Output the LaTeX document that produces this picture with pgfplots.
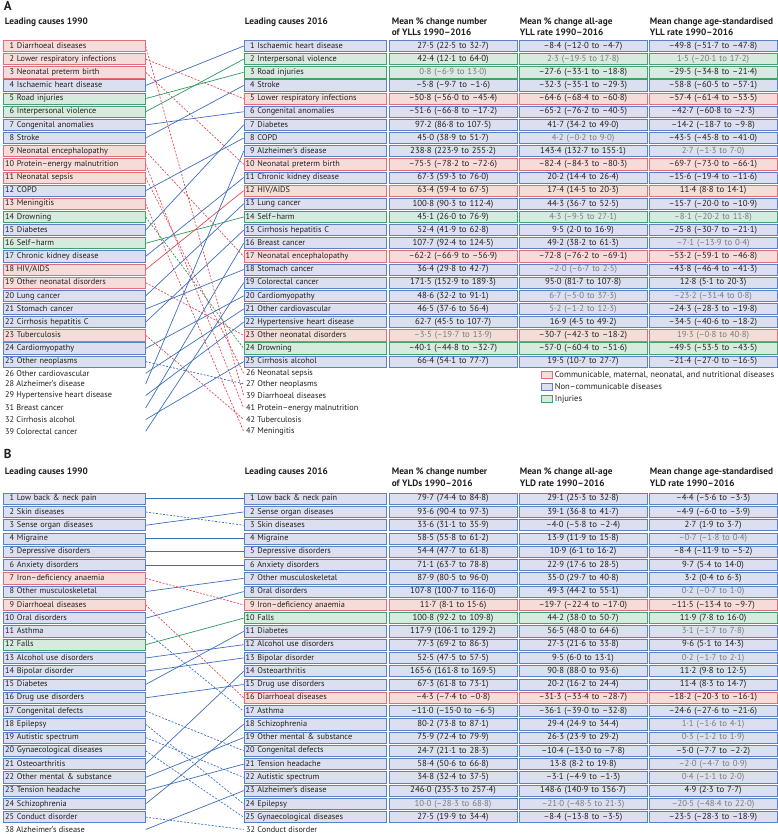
\documentclass[border=0pt]{standalone}
\usepackage{pgfplots}
\pgfplotsset{compat=1.18}
\usepackage{fontspec}
\setmainfont{PT Sans}
\definecolor{rb}{HTML}{DF6E78}
\definecolor{rf}{HTML}{F6DCD9}
\definecolor{bb}{HTML}{5A80C6}
\definecolor{bf}{HTML}{DCDFEF}
\definecolor{gb}{HTML}{45A070}
\definecolor{gf}{HTML}{D7EADE}
\definecolor{bl}{HTML}{3E6FC0}
\definecolor{rl}{HTML}{E04A58}
\definecolor{gl}{HTML}{2E9A5E}
\definecolor{txt}{HTML}{231F20}
\definecolor{txtgrey}{HTML}{7A7A7A}
\newcommand\fs{\fontsize{8.3}{9}\selectfont}
\newcommand\vfs{\fontsize{8.8}{9.5}\selectfont}
\newcommand\hfs{\fontsize{9.3}{10}\selectfont\bfseries}
\newcommand\g[1]{\textcolor{txtgrey}{#1}}
\newlength\rkw
\newcommand\rk[1]{\makebox[\rkw][r]{#1}\ }
\tikzset{
 bx/.style={line width=0.75bp, minimum height=11.2bp, inner xsep=1.6bp, inner ysep=0pt, anchor=west, font=\fs, text=txt, text height=6bp, text depth=1.7bp},
 lab/.style={bx, text width=138.8bp, align=left},
 val/.style={bx, font=\vfs, text width=124.8bp, align=center, text height=6.2bp, text depth=1.8bp},
 cR/.style={draw=rb, fill=rf}, cB/.style={draw=bb, fill=bf}, cG/.style={draw=gb, fill=gf},
 plain/.style={anchor=west, font=\fs, text=txt, inner sep=0pt},
 hd/.style={anchor=west, font=\hfs, text=txt, inner sep=0pt},
}
\pgfplotsset{
 lB/.style={draw=bl, line width=0.7bp, mark=none, solid},
 lBd/.style={draw=bl, line width=0.7bp, mark=none, dash pattern=on 2bp off 1.5bp},
 lR/.style={draw=rl, line width=0.7bp, mark=none, solid},
 lRd/.style={draw=rl, line width=0.7bp, mark=none, dash pattern=on 2bp off 1.5bp},
 lG/.style={draw=gl, line width=0.7bp, mark=none, solid},
 lGd/.style={draw=gl, line width=0.7bp, mark=none, dash pattern=on 2bp off 1.5bp},
}
\newcommand\lnk[3]{\addplot[#1] coordinates {(143,#2) (241,#3)};}
\newcommand\lrow[4]{\node[lab,#2] at (axis cs:0.5,#1) {\rk{#3}#4};}
\newcommand\rrow[7]{%
 \node[lab,#2] at (axis cs:241,#1) {\rk{#3}#4};
 \node[val,#2] at (axis cs:386,#1) {#5};
 \node[val,#2] at (axis cs:516,#1) {#6};
 \node[val,#2] at (axis cs:646,#1) {#7};}
\begin{document}
\settowidth{\rkw}{\fs 00}
\begin{tikzpicture}
\begin{axis}[x=1bp, y=1bp, y dir=reverse, xmin=0, xmax=775, ymin=0, ymax=834, hide axis, clip=false]
\path (rel axis cs:0,0) rectangle (rel axis cs:1,1);
% ---------------- Panel A lines
\lnk{lRd}{46}{395.5}
\lnk{lRd}{59.15}{98.6}
\lnk{lRd}{72.3}{164.35}
\lnk{lB}{85.45}{46}
\lnk{lG}{98.6}{72.3}
\lnk{lG}{111.75}{59.15}
\lnk{lB}{124.9}{111.75}
\lnk{lB}{138.05}{85.45}
\lnk{lRd}{151.2}{256.4}
\lnk{lRd}{164.35}{408}
\lnk{lRd}{177.5}{373.3}
\lnk{lB}{190.65}{138.05}
\lnk{lRd}{203.8}{431.3}
\lnk{lGd}{216.95}{348.45}
\lnk{lB}{230.1}{124.9}
\lnk{lG}{243.25}{216.95}
\lnk{lB}{256.4}{177.5}
\lnk{lR}{269.55}{190.65}
\lnk{lRd}{282.7}{335.3}
\lnk{lB}{295.85}{203.8}
\lnk{lB}{309}{269.55}
\lnk{lB}{322.15}{230.1}
\lnk{lRd}{335.3}{419.5}
\lnk{lB}{348.45}{295.85}
\lnk{lBd}{361.6}{383.8}
\lnk{lB}{373.3}{309}
\lnk{lB}{384}{151.2}
\lnk{lB}{395.5}{322.15}
\lnk{lB}{408}{243.25}
\lnk{lB}{419.5}{361.6}
\lnk{lB}{431.3}{282.7}
% ---------------- Panel B lines
\lnk{lB}{498.7}{498.7}
\lnk{lBd}{511.97}{525.24}
\lnk{lB}{525.24}{511.97}
\lnk{lB}{538.51}{538.51}
\lnk{lB}{551.78}{551.78}
\lnk{lB}{565.05}{565.05}
\lnk{lRd}{578.32}{604.86}
\lnk{lB}{591.59}{578.32}
\lnk{lRd}{604.86}{697.75}
\lnk{lB}{618.13}{591.59}
\lnk{lBd}{631.4}{711.02}
\lnk{lG}{644.67}{618.13}
\lnk{lB}{657.94}{644.67}
\lnk{lB}{671.21}{657.94}
\lnk{lB}{684.48}{631.4}
\lnk{lB}{697.75}{684.48}
\lnk{lBd}{711.02}{750.83}
\lnk{lBd}{724.29}{803.91}
\lnk{lBd}{737.56}{777.37}
\lnk{lBd}{750.83}{817.18}
\lnk{lB}{764.1}{671.21}
\lnk{lB}{777.37}{737.56}
\lnk{lB}{790.64}{764.1}
\lnk{lB}{803.91}{724.29}
\lnk{lBd}{817.18}{829.5}
\lnk{lB}{829.5}{790.64}
% ---------------- Panel A headers
\node[anchor=west, font=\fontsize{13}{14}\selectfont\bfseries, text=txt, inner sep=0pt] at (axis cs:1,6) {A};
\node[hd] at (axis cs:2,21.7) {Leading causes 1990};
\node[hd] at (axis cs:242,21.7) {Leading causes 2016};
\node[hd] at (axis cs:389,21.7) {Mean \% change number};
\node[hd] at (axis cs:389,32.3) {of YLLs 1990–2016};
\node[hd] at (axis cs:517,21.7) {Mean \% change all-age};
\node[hd] at (axis cs:517,32.3) {YLL rate 1990–2016};
\node[hd] at (axis cs:647,21.7) {Mean change age-standardised};
\node[hd] at (axis cs:647,32.3) {YLL rate 1990–2016};
% ---------------- Panel A left
\lrow{46}{cR}{1}{Diarrhoeal diseases}
\lrow{59.15}{cR}{2}{Lower respiratory infections}
\lrow{72.3}{cR}{3}{Neonatal preterm birth}
\lrow{85.45}{cB}{4}{Ischaemic heart disease}
\lrow{98.6}{cG}{5}{Road injuries}
\lrow{111.75}{cG}{6}{Interpersonal violence}
\lrow{124.9}{cB}{7}{Congenital anomalies}
\lrow{138.05}{cB}{8}{Stroke}
\lrow{151.2}{cR}{9}{Neonatal encephalopathy}
\lrow{164.35}{cR}{10}{Protein–energy malnutrition}
\lrow{177.5}{cR}{11}{Neonatal sepsis}
\lrow{190.65}{cB}{12}{COPD}
\lrow{203.8}{cR}{13}{Meningitis}
\lrow{216.95}{cG}{14}{Drowning}
\lrow{230.1}{cB}{15}{Diabetes}
\lrow{243.25}{cG}{16}{Self–harm}
\lrow{256.4}{cB}{17}{Chronic kidney disease}
\lrow{269.55}{cR}{18}{HIV/AIDS}
\lrow{282.7}{cR}{19}{Other neonatal disorders}
\lrow{295.85}{cB}{20}{Lung cancer}
\lrow{309}{cB}{21}{Stomach cancer}
\lrow{322.15}{cB}{22}{Cirrhosis hepatitis C}
\lrow{335.3}{cR}{23}{Tuberculosis}
\lrow{348.45}{cB}{24}{Cardiomyopathy}
\lrow{361.6}{cB}{25}{Other neoplasms}
\node[plain] at (axis cs:2.3,373.3) {26 Other cardiovascular};
\node[plain] at (axis cs:2.3,384) {28 Alzheimer's disease};
\node[plain] at (axis cs:2.3,395.5) {29 Hypertensive heart disease};
\node[plain] at (axis cs:2.3,408) {31 Breast cancer};
\node[plain] at (axis cs:2.3,419.5) {32 Cirrhosis alcohol};
\node[plain] at (axis cs:2.3,431.3) {39 Colorectal cancer};
% ---------------- Panel A right
\rrow{46}{cB}{1}{Ischaemic heart disease}{27·5 (22·5 to 32·7)}{–8·4 (–12·0 to –4·7)}{–49·8 (–51·7 to –47·8)}
\rrow{59.15}{cG}{2}{Interpersonal violence}{42·4 (12·1 to 64·0)}{\g{2·3 (–19·5 to 17·8)}}{\g{1·5 (–20·1 to 17·2)}}
\rrow{72.3}{cG}{3}{Road injuries}{\g{0·8 (–6·9 to 13·0)}}{–27·6 (–33·1 to –18·8)}{–29·5 (–34·8 to –21·4)}
\rrow{85.45}{cB}{4}{Stroke}{–5·8 (–9·7 to –1·6)}{–32·3 (–35·1 to –29·3)}{–58·8 (–60·5 to –57·1)}
\rrow{98.6}{cR}{5}{Lower respiratory infections}{–50·8 (–56·0 to –45·4)}{–64·6 (–68·4 to –60·8)}{–57·4 (–61·4 to –53·5)}
\rrow{111.75}{cB}{6}{Congenital anomalies}{–51·6 (–66·8 to –17·2)}{–65·2 (–76·2 to –40·5)}{–42·7 (–60·8 to –2·3)}
\rrow{124.9}{cB}{7}{Diabetes}{97·2 (86·8 to 107·5)}{41·7 (34·2 to 49·0)}{–14·2 (–18·7 to –9·8)}
\rrow{138.05}{cB}{8}{COPD}{45·0 (38·9 to 51·7)}{\g{4·2 (–0·2 to 9·0)}}{–43·5 (–45·8 to –41·0)}
\rrow{151.2}{cB}{9}{Alzheimer's disease}{238·8 (223·9 to 255·2)}{143·4 (132·7 to 155·1)}{\g{2·7 (–1·3 to 7·0)}}
\rrow{164.35}{cR}{10}{Neonatal preterm birth}{–75·5 (–78·2 to –72·6)}{–82·4 (–84·3 to –80·3)}{–69·7 (–73·0 to –66·1)}
\rrow{177.5}{cB}{11}{Chronic kidney disease}{67·3 (59·3 to 76·0)}{20·2 (14·4 to 26·4)}{–15·6 (–19·4 to –11·6)}
\rrow{190.65}{cR}{12}{HIV/AIDS}{63·4 (59·4 to 67·5)}{17·4 (14·5 to 20·3)}{11·4 (8·8 to 14·1)}
\rrow{203.8}{cB}{13}{Lung cancer}{100·8 (90·3 to 112·4)}{44·3 (36·7 to 52·5)}{–15·7 (–20·0 to –10·9)}
\rrow{216.95}{cG}{14}{Self–harm}{45·1 (26·0 to 76·9)}{\g{4·3 (–9·5 to 27·1)}}{\g{–8·1 (–20·2 to 11·8)}}
\rrow{230.1}{cB}{15}{Cirrhosis hepatitis C}{52·4 (41·9 to 62·8)}{9·5 (2·0 to 16·9)}{–25·8 (–30·7 to –21·1)}
\rrow{243.25}{cB}{16}{Breast cancer}{107·7 (92·4 to 124·5)}{49·2 (38·2 to 61·3)}{\g{–7·1 (–13·9 to 0·4)}}
\rrow{256.4}{cR}{17}{Neonatal encephalopathy}{–62·2 (–66·9 to –56·9)}{–72·8 (–76·2 to –69·1)}{–53·2 (–59·1 to –46·8)}
\rrow{269.55}{cB}{18}{Stomach cancer}{36·4 (29·8 to 42·7)}{\g{–2·0 (–6·7 to 2·5)}}{–43·8 (–46·4 to –41·3)}
\rrow{282.7}{cB}{19}{Colorectal cancer}{171·5 (152·9 to 189·3)}{95·0 (81·7 to 107·8)}{12·8 (5·1 to 20·3)}
\rrow{295.85}{cB}{20}{Cardiomyopathy}{48·6 (32·2 to 91·1)}{\g{6·7 (–5·0 to 37·3)}}{\g{–23·2 (–31·4 to 0·8)}}
\rrow{309}{cB}{21}{Other cardiovascular}{46·5 (37·6 to 56·4)}{\g{5·2 (–1·2 to 12·3)}}{–24·3 (–28·3 to –19·8)}
\rrow{322.15}{cB}{22}{Hypertensive heart disease}{62·7 (45·5 to 107·7)}{16·9 (4·5 to 49·2)}{–34·5 (–40·6 to –18·2)}
\rrow{335.3}{cR}{23}{Other neonatal disorders}{\g{–3·5 (–19·7 to 13·9)}}{–30·7 (–42·3 to –18·2)}{\g{19·3 (–0·8 to 40·8)}}
\rrow{348.45}{cG}{24}{Drowning}{–40·1 (–44·8 to –32·7)}{–57·0 (–60·4 to –51·6)}{–49·5 (–53·5 to –43·5)}
\rrow{361.6}{cB}{25}{Cirrhosis alcohol}{66·4 (54·1 to 77·7)}{19·5 (10·7 to 27·7)}{–21·4 (–27·0 to –16·5)}
\node[plain] at (axis cs:243.3,373.3) {26 Neonatal sepsis};
\node[plain] at (axis cs:243.3,384) {27 Other neoplasms};
\node[plain] at (axis cs:243.3,395.5) {39 Diarrhoeal diseases};
\node[plain] at (axis cs:243.3,408) {41 Protein–energy malnutrition};
\node[plain] at (axis cs:243.3,419.5) {42 Tuberculosis};
\node[plain] at (axis cs:243.3,431.3) {47 Meningitis};
% legend
\node[cR, line width=0.75bp, minimum width=11bp, minimum height=7.5bp, inner sep=0pt] at (axis cs:543.8,375) {};
\node[cB, line width=0.75bp, minimum width=11bp, minimum height=7.5bp, inner sep=0pt] at (axis cs:543.8,387) {};
\node[cG, line width=0.75bp, minimum width=11bp, minimum height=7.5bp, inner sep=0pt] at (axis cs:543.8,399) {};
\node[plain, font=\fontsize{8.6}{9}\selectfont] at (axis cs:552,375) {Communicable, maternal, neonatal, and nutritional diseases};
\node[plain, font=\fontsize{8.6}{9}\selectfont] at (axis cs:552,387) {Non–communicable diseases};
\node[plain, font=\fontsize{8.6}{9}\selectfont] at (axis cs:552,399) {Injuries};
% ---------------- Panel B headers
\node[anchor=west, font=\fontsize{13}{14}\selectfont\bfseries, text=txt, inner sep=0pt] at (axis cs:1,454) {B};
\node[hd] at (axis cs:2,472) {Leading causes 1990};
\node[hd] at (axis cs:242,472) {Leading causes 2016};
\node[hd] at (axis cs:389,472) {Mean \% change number};
\node[hd] at (axis cs:389,483) {of YLDs 1990–2016};
\node[hd] at (axis cs:517,472) {Mean \% change all-age};
\node[hd] at (axis cs:517,483) {YLD rate 1990–2016};
\node[hd] at (axis cs:647,472) {Mean change age-standardised};
\node[hd] at (axis cs:647,483) {YLD rate 1990–2016};
% ---------------- Panel B left
\lrow{498.7}{cB}{1}{Low back \& neck pain}
\lrow{511.97}{cB}{2}{Skin diseases}
\lrow{525.24}{cB}{3}{Sense organ diseases}
\lrow{538.51}{cB}{4}{Migraine}
\lrow{551.78}{cB}{5}{Depressive disorders}
\lrow{565.05}{cB}{6}{Anxiety disorders}
\lrow{578.32}{cR}{7}{Iron–deficiency anaemia}
\lrow{591.59}{cB}{8}{Other musculoskeletal}
\lrow{604.86}{cR}{9}{Diarrhoeal diseases}
\lrow{618.13}{cB}{10}{Oral disorders}
\lrow{631.4}{cB}{11}{Asthma}
\lrow{644.67}{cG}{12}{Falls}
\lrow{657.94}{cB}{13}{Alcohol use disorders}
\lrow{671.21}{cB}{14}{Bipolar disorder}
\lrow{684.48}{cB}{15}{Diabetes}
\lrow{697.75}{cB}{16}{Drug use disorders}
\lrow{711.02}{cB}{17}{Congenital defects}
\lrow{724.29}{cB}{18}{Epilepsy}
\lrow{737.56}{cB}{19}{Autistic spectrum}
\lrow{750.83}{cB}{20}{Gynaecological diseases}
\lrow{764.1}{cB}{21}{Osteoarthritis}
\lrow{777.37}{cB}{22}{Other mental \& substance}
\lrow{790.64}{cB}{23}{Tension headache}
\lrow{803.91}{cB}{24}{Schizophrenia}
\lrow{817.18}{cB}{25}{Conduct disorder}
\node[plain] at (axis cs:2.3,829.5) {38 Alzheimer's disease};
% ---------------- Panel B right
\rrow{498.7}{cB}{1}{Low back \& neck pain}{79·7 (74·4 to 84·8)}{29·1 (25·3 to 32·8)}{–4·4 (–5·6 to –3·3)}
\rrow{511.97}{cB}{2}{Sense organ diseases}{93·6 (90·4 to 97·3)}{39·1 (36·8 to 41·7)}{–4·9 (–6·0 to –3·9)}
\rrow{525.24}{cB}{3}{Skin diseases}{33·6 (31·1 to 35·9)}{–4·0 (–5·8 to –2·4)}{2·7 (1·9 to 3·7)}
\rrow{538.51}{cB}{4}{Migraine}{58·5 (55·8 to 61·2)}{13·9 (11·9 to 15·8)}{\g{–0·7 (–1·8 to 0·4)}}
\rrow{551.78}{cB}{5}{Depressive disorders}{54·4 (47·7 to 61·8)}{10·9 (6·1 to 16·2)}{–8·4 (–11·9 to –5·2)}
\rrow{565.05}{cB}{6}{Anxiety disorders}{71·1 (63·7 to 78·8)}{22·9 (17·6 to 28·5)}{9·7 (5·4 to 14·0)}
\rrow{578.32}{cB}{7}{Other musculoskeletal}{87·9 (80·5 to 96·0)}{35·0 (29·7 to 40·8)}{3·2 (0·4 to 6·3)}
\rrow{591.59}{cB}{8}{Oral disorders}{107·8 (100·7 to 116·0)}{49·3 (44·2 to 55·1)}{\g{0·2 (–0·7 to 1·0)}}
\rrow{604.86}{cR}{9}{Iron–deficiency anaemia}{11·7 (8·1 to 15·6)}{–19·7 (–22·4 to –17·0)}{–11·5 (–13·4 to –9·7)}
\rrow{618.13}{cG}{10}{Falls}{100·8 (92·2 to 109·8)}{44·2 (38·0 to 50·7)}{11·9 (7·8 to 16·0)}
\rrow{631.4}{cB}{11}{Diabetes}{117·9 (106·1 to 129·2)}{56·5 (48·0 to 64·6)}{\g{3·1 (–1·7 to 7·8)}}
\rrow{644.67}{cB}{12}{Alcohol use disorders}{77·3 (69·2 to 86·3)}{27·3 (21·6 to 33·8)}{9·6 (5·1 to 14·3)}
\rrow{657.94}{cB}{13}{Bipolar disorder}{52·5 (47·5 to 57·5)}{9·5 (6·0 to 13·1)}{\g{0·2 (–1·7 to 2·1)}}
\rrow{671.21}{cB}{14}{Osteoarthritis}{165·6 (161·8 to 169·5)}{90·8 (88·0 to 93·6)}{11·2 (9·8 to 12·5)}
\rrow{684.48}{cB}{15}{Drug use disorders}{67·3 (61·8 to 73·1)}{20·2 (16·2 to 24·4)}{11·4 (8·3 to 14·7)}
\rrow{697.75}{cR}{16}{Diarrhoeal diseases}{–4·3 (–7·4 to –0·8)}{–31·3 (–33·4 to –28·7)}{–18·2 (–20·3 to –16·1)}
\rrow{711.02}{cB}{17}{Asthma}{–11·0 (–15·0 to –6·5)}{–36·1 (–39·0 to –32·8)}{–24·6 (–27·6 to –21·6)}
\rrow{724.29}{cB}{18}{Schizophrenia}{80·2 (73·8 to 87·1)}{29·4 (24·9 to 34·4)}{\g{1·1 (–1·6 to 4·1)}}
\rrow{737.56}{cB}{19}{Other mental \& substance}{75·9 (72·4 to 79·9)}{26·3 (23·9 to 29·2)}{\g{0·3 (–1·2 to 1·9)}}
\rrow{750.83}{cB}{20}{Congenital defects}{24·7 (21·1 to 28·3)}{–10·4 (–13·0 to –7·8)}{–5·0 (–7·7 to –2·2)}
\rrow{764.1}{cB}{21}{Tension headache}{58·4 (50·6 to 66·8)}{13·8 (8·2 to 19·8)}{\g{–2·0 (–4·7 to 0·9)}}
\rrow{777.37}{cB}{22}{Autistic spectrum}{34·8 (32·4 to 37·5)}{–3·1 (–4·9 to –1·3)}{\g{0·4 (–1·1 to 2·0)}}
\rrow{790.64}{cB}{23}{Alzheimer's disease}{246·0 (235·3 to 257·4)}{148·6 (140·9 to 156·7)}{4·9 (2·3 to 7·7)}
\rrow{803.91}{cB}{24}{Epilepsy}{\g{10·0 (–28·3 to 68·8)}}{\g{–21·0 (–48·5 to 21·3)}}{\g{–20·5 (–48·4 to 22·0)}}
\rrow{817.18}{cB}{25}{Gynaecological diseases}{27·5 (19·9 to 34·4)}{–8·4 (–13·8 to –3·5)}{–23·5 (–28·3 to –18·9)}
\node[plain] at (axis cs:243.3,829.5) {32 Conduct disorder};
\end{axis}
\end{tikzpicture}
\end{document}
